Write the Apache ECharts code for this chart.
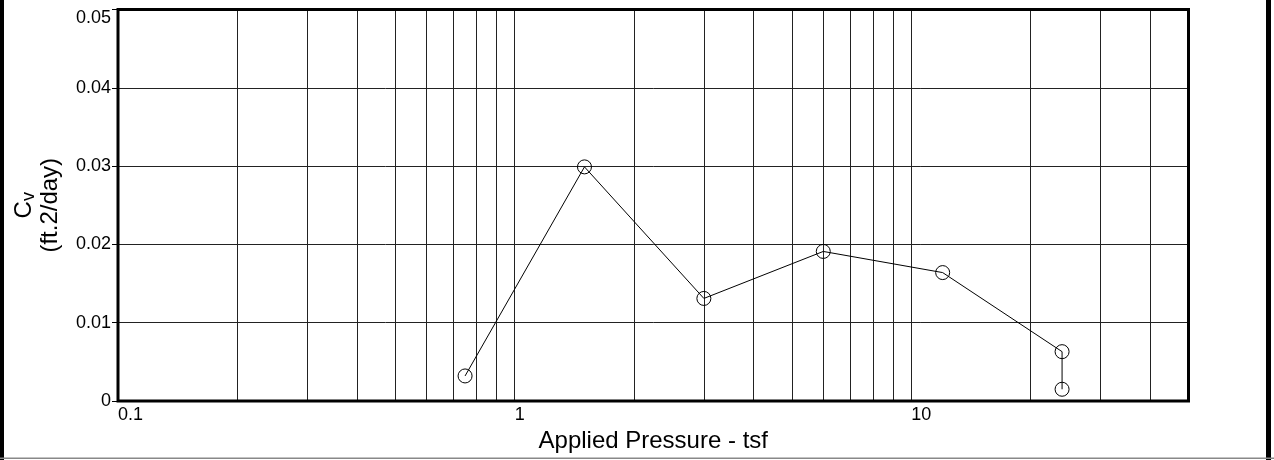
<!DOCTYPE html>
<html>
<head>
<meta charset="utf-8">
<script src="https://cdn.jsdelivr.net/npm/echarts@6/dist/echarts.min.js"></script>
<style>
html,body{margin:0;padding:0;background:#fff;}
#c{width:1274px;height:460px;}
</style>
</head>
<body>
<div id="c"></div>
<script>
// Data
const pressure = [0.75, 1.5, 3, 6, 12, 24, 24];          // Applied Pressure - tsf
const cv = [0.0032, 0.0299, 0.0131, 0.0191, 0.0164, 0.0063, 0.0015]; // Cv (ft.2/day)
const minorGridX = [0.2, 0.3, 0.4, 0.5, 0.6, 0.7, 0.8, 0.9, 2, 3, 4, 5, 6, 7, 8, 9, 20, 30, 40];
const xTickLabels = [0.1, 1, 10];
const yMin = 0, yMax = 0.05, yStep = 0.01;
const xMin = 0.1, xMax = 50;

const chart = echarts.init(document.getElementById('c'), null, {renderer: 'canvas'});
const FONT = 'Liberation Sans, Arial, sans-serif';
const option = {
  animation: false,
  backgroundColor: '#fff',
  grid: {left: 118, top: 9.5, right: 85.5, bottom: 59, show: true, borderColor: '#000', borderWidth: 3, backgroundColor: 'transparent', z: 5},
  xAxis: {
    type: 'log', logBase: 10, min: xMin, max: xMax,
    name: 'Applied Pressure - tsf', nameLocation: 'middle', nameGap: 26,
    nameTextStyle: {fontFamily: FONT, fontSize: 24, color: '#000'},
    axisLine: {show: false},
    axisTick: {show: false},
    axisLabel: {fontFamily: FONT, fontSize: 18, color: '#000', align: 'left', margin: 5,
      showMaxLabel: false,
      formatter: v => xTickLabels.some(t => Math.abs(t - v) < 1e-9) ? String(v) : ''},
    splitLine: {show: true, lineStyle: {color: '#222', width: 1}},
    minorTick: {show: false}
  },
  yAxis: {
    type: 'value', min: yMin, max: yMax, interval: yStep,
    name: '{c|C}{s|v}\n{p|(ft.2/day)}', nameLocation: 'middle', nameRotate: 90, nameGap: 56,
    nameTextStyle: {fontFamily: FONT, color: '#000', rich: {
      c: {fontFamily: FONT, fontSize: 24, color: '#000'},
      s: {fontFamily: FONT, fontSize: 18, color: '#000', padding: [10, 0, 0, 0]},
      p: {fontFamily: FONT, fontSize: 24, color: '#000'}
    }},
    axisLine: {show: false},
    axisTick: {show: true, inside: false, length: 6, lineStyle: {color: '#000', width: 1}},
    axisLabel: {fontFamily: FONT, fontSize: 18, color: '#000', margin: 7,
      verticalAlignMaxLabel: 'top',
      formatter: v => String(+v.toFixed(2))},
    splitLine: {show: true, lineStyle: {color: '#222', width: 1}}
  },
  series: [{
    type: 'line',
    data: pressure.map((p, i) => [p, cv[i]]),
    symbol: 'circle', symbolSize: 14,
    itemStyle: {color: 'rgba(0,0,0,0)', borderColor: '#000', borderWidth: 1},
    lineStyle: {color: '#000', width: 1},
    z: 10,
    markLine: {
      silent: true, symbol: ['none', 'none'], label: {show: false},
      lineStyle: {color: '#222', width: 1, type: 'solid'},
      data: minorGridX.map(x => ({xAxis: x})),
      z: 1
    }
  }],
  graphic: [
    {type: 'rect', left: 0, top: 0, shape: {width: 4, height: 460}, style: {fill: '#000'}},
    {type: 'rect', left: 1266, top: 0, shape: {width: 5, height: 460}, style: {fill: '#000'}},
    {type: 'rect', left: 0, top: 457.5, shape: {width: 1274, height: 1.5}, style: {fill: '#888'}}
  ]
};
chart.setOption(option);
</script>
</body>
</html>
